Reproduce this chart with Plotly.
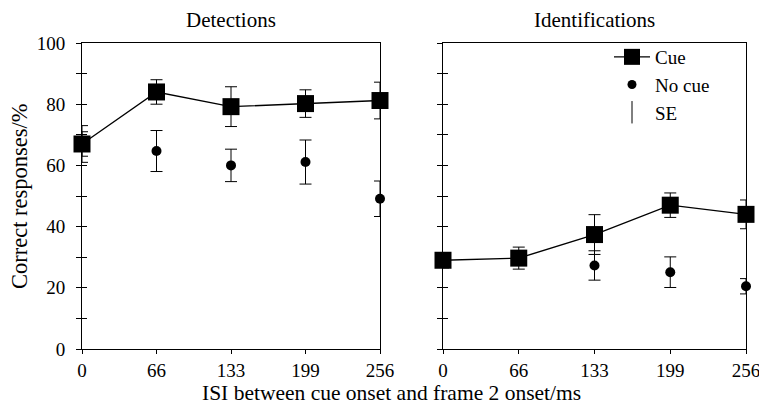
import plotly.graph_objects as go

isi = ['0', '66', '133', '199', '256']
yticks = [0, 10, 20, 30, 40, 50, 60, 70, 80, 90, 100]
ylabels = ['0', '', '20', '', '40', '', '60', '', '80', '', '100']

det_cue = [67, 84, 79.2, 80.2, 81.2]
det_cue_se = [4, 4, 6.5, 4.5, 6]
det_nocue = [67, 64.7, 60, 61.1, 49.1]
det_nocue_se = [6, 6.7, 5.3, 7.2, 5.8]

id_cue = [29, 29.7, 37.4, 47, 44]
id_cue_se = [2.5, 3.6, 6.5, 4, 4.7]
id_nocue = [29, 29.7, 27.3, 25.1, 20.5]
id_nocue_se = [2, 2, 4.8, 5, 2.5]

FONT = 'Liberation Serif'
BLACK = '#000000'

fig = go.Figure()

def add_panel(xa, ya, cue, cue_se, nocue, nocue_se):
    fig.add_trace(go.Scatter(
        x=isi, y=nocue, xaxis=xa, yaxis=ya, mode='markers', name='No cue',
        marker=dict(symbol='circle', size=10, color=BLACK),
        error_y=dict(type='data', array=nocue_se, color=BLACK, thickness=1, width=6),
        showlegend=False, cliponaxis=False))
    fig.add_trace(go.Scatter(
        x=isi, y=cue, xaxis=xa, yaxis=ya, mode='lines+markers', name='Cue',
        line=dict(color=BLACK, width=1.4),
        marker=dict(symbol='square', size=17, color=BLACK),
        error_y=dict(type='data', array=cue_se, color=BLACK, thickness=1, width=6),
        showlegend=False, cliponaxis=False))

add_panel('x', 'y', det_cue, det_cue_se, det_nocue, det_nocue_se)
add_panel('x2', 'y2', id_cue, id_cue_se, id_nocue, id_nocue_se)

# legend-only traces
fig.add_trace(go.Scatter(x=[None], y=[None], xaxis='x2', yaxis='y2', mode='lines+markers', name='Cue',
                         line=dict(color=BLACK, width=1.4), marker=dict(symbol='square', size=17, color=BLACK)))
fig.add_trace(go.Scatter(x=[None], y=[None], xaxis='x2', yaxis='y2', mode='markers', name='No cue',
                         marker=dict(symbol='circle', size=9, color=BLACK)))
fig.add_trace(go.Scatter(x=[None], y=[None], xaxis='x2', yaxis='y2', mode='markers', name='SE',
                         marker=dict(symbol='line-ns-open', size=20, color=BLACK,
                                     line=dict(width=1, color=BLACK))))

xd1 = [82 / 759, 380 / 759]
xd2 = [443 / 759, 746 / 759]
yd = [(409 - 349) / 409, (409 - 43) / 409]

def xaxis(domain, anchor, ticks='outside', labels=True, overlay=None):
    d = dict(domain=domain, anchor=anchor, type='category', range=[0, 4],
             tickvals=isi, ticktext=isi, ticks=ticks, ticklen=4, tickcolor=BLACK,
             showticklabels=labels, showline=True, linecolor=BLACK, linewidth=1,
             mirror=True, showgrid=False, zeroline=False, ticklabelstandoff=0,
             automargin=False,
             tickfont=dict(family=FONT, size=19, color=BLACK))
    if overlay:
        d['overlaying'] = overlay
    return d

def yaxis(anchor, labels, ticks='outside', overlay=None):
    d = dict(domain=yd, anchor=anchor, range=[0, 100], tickvals=yticks,
             ticktext=ylabels, ticks=ticks, ticklen=5, tickcolor=BLACK,
             showticklabels=labels, showline=True, linecolor=BLACK, linewidth=1,
             mirror=True, showgrid=False, zeroline=False, ticklabelstandoff=7,
             automargin=False,
             tickfont=dict(family=FONT, size=19, color=BLACK))
    if overlay:
        d['overlaying'] = overlay
    return d

fig.update_layout(
    width=759, height=409,
    margin=dict(l=0, r=0, t=0, b=0, autoexpand=False),
    paper_bgcolor='white', plot_bgcolor='white',
    font=dict(family=FONT, size=19, color=BLACK),
    xaxis=xaxis(xd1, 'y'),
    yaxis=yaxis('x', True),
    xaxis2=xaxis(xd2, 'y2'),
    yaxis2=yaxis('x2', False),
    xaxis3=xaxis(xd1, 'y3', ticks='inside', labels=False, overlay='x'),
    yaxis3=yaxis('x3', False, ticks='inside', overlay='y'),
    xaxis4=xaxis(xd2, 'y4', ticks='inside', labels=False, overlay='x2'),
    yaxis4=yaxis('x4', False, ticks='inside', overlay='y2'),
    showlegend=True,
    legend=dict(x=609 / 759, y=(409 - 38) / 409, xanchor='left', yanchor='top',
                bgcolor='rgba(0,0,0,0)', font=dict(family=FONT, size=19, color=BLACK),
                itemsizing='trace', itemwidth=36, tracegroupgap=0),
    annotations=[
        dict(text='Detections', x=(xd1[0] + xd1[1]) / 2, y=(409 - 20) / 409, xref='paper', yref='paper',
             xanchor='center', yanchor='middle', showarrow=False,
             font=dict(family=FONT, size=21, color=BLACK)),
        dict(text='Identifications', x=(xd2[0] + xd2[1]) / 2, y=(409 - 20) / 409, xref='paper', yref='paper',
             xanchor='center', yanchor='middle', showarrow=False,
             font=dict(family=FONT, size=21, color=BLACK)),
        dict(text='ISI between cue onset and frame 2 onset/ms', x=391 / 759, y=(409 - 393) / 409,
             xref='paper', yref='paper', xanchor='center', yanchor='middle', showarrow=False,
             font=dict(family=FONT, size=21.5, color=BLACK)),
        dict(text='Correct responses/%', x=19 / 759, y=(409 - 196) / 409, xref='paper', yref='paper',
             xanchor='center', yanchor='middle', textangle=-90, showarrow=False,
             font=dict(family=FONT, size=22.5, color=BLACK)),
    ],
)

# attach invisible traces so the overlaid tick axes are drawn
fig.add_trace(go.Scatter(x=[None], y=[None], xaxis='x3', yaxis='y3', showlegend=False, hoverinfo='skip'))
fig.add_trace(go.Scatter(x=[None], y=[None], xaxis='x4', yaxis='y4', showlegend=False, hoverinfo='skip'))

fig.write_html('out.html', config={'displayModeBar': False},
               post_script="document.body.style.margin='0';")
